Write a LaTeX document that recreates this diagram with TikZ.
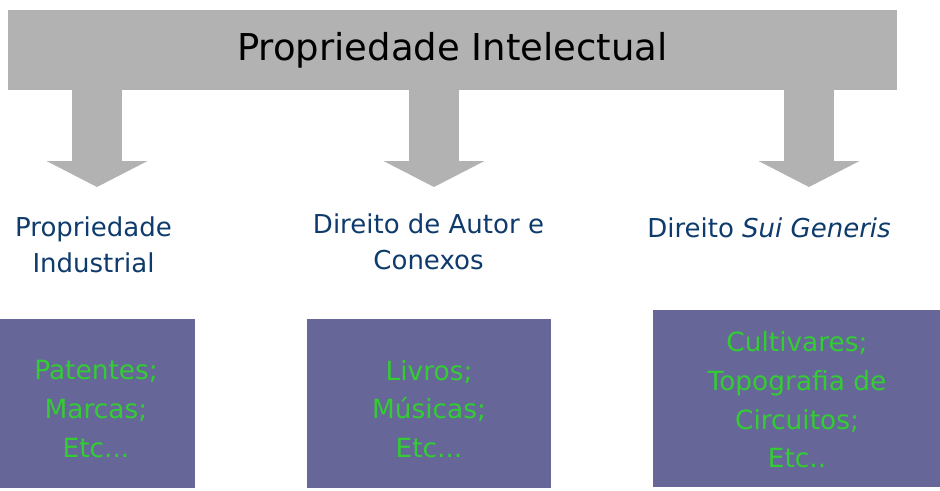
\documentclass[tikz,border=0pt]{standalone}
\usepackage{fontspec}
\setmainfont{DejaVu Sans}
\usetikzlibrary{%
	arrows.meta
}
\definecolor{PIgray}{HTML}{B2B2B2}
\definecolor{PIblue}{HTML}{0E3B6B}
\definecolor{PIviolet}{HTML}{666699}
\definecolor{PIgreen}{HTML}{33CC33}

\begin{document}
\begin{tikzpicture}[x=0.75pt,y=-0.75pt,
		PIbar/.style={fill=PIgray,minimum width=666.75pt,minimum height=60pt,inner sep=0pt,font=\fontsize{27.75pt}{33pt}\selectfont},
		branch/.style={text=PIblue,align=center,inner sep=0pt,font=\fontsize{19.5pt}{27pt}\selectfont},
		SBox/.style={fill=PIviolet,inner sep=0pt},
		SText/.style={text=PIgreen,align=center,inner sep=0pt,font=\fontsize{19.8pt}{29pt}\selectfont},
		down/.style={draw=PIgray,line width=37.5pt,-{Triangle[width=75pt,length=19.5pt]}}
	]
	\useasboundingbox (0,0) rectangle (940,490);

		%bar
		\node (PI) [PIbar] at (452.5,50) {Propriedade Intelectual};

		%arrows
		\coordinate (t-ind) at (97,187);
		\coordinate (t-aut) at (434,187);
		\coordinate (t-sui) at (809,187);
		\draw [down] ([yshift=0.5pt]PI.south -| t-ind) -- (t-ind);
		\draw [down] ([yshift=0.5pt]PI.south -| t-aut) -- (t-aut);
		\draw [down] ([yshift=0.5pt]PI.south -| t-sui) -- (t-sui);

		%branches
		\node (ind) [branch] at (93.5,245) {Propriedade\\Industrial};
		\node (aut) [branch] at (428.5,242) {Direito de Autor e\\Conexos};
		\node (sui) [branch] at (769,228) {Direito \textit{Sui Generis}};

		%examples
		\node (ex-ind) [SBox,minimum width=146.25pt,minimum height=126.75pt] at (97.5,403.5) {};
		\node (ex-aut) [SBox,minimum width=183pt,minimum height=126.75pt] at (429,403.5) {};
		\node (ex-sui) [SBox,minimum width=215.25pt,minimum height=132.75pt] at (796.5,398.5) {};
		\node (ex-ind-txt) [SText] at (96,409) {Patentes;\\Marcas;\\Etc...};
		\node (ex-aut-txt) [SText] at (429,409) {Livros;\\Músicas;\\Etc...};
		\node (ex-sui-txt) [SText] at (797,400) {Cultivares;\\Topografia de\\Circuitos;\\Etc..};

	\end{tikzpicture}
\end{document}
